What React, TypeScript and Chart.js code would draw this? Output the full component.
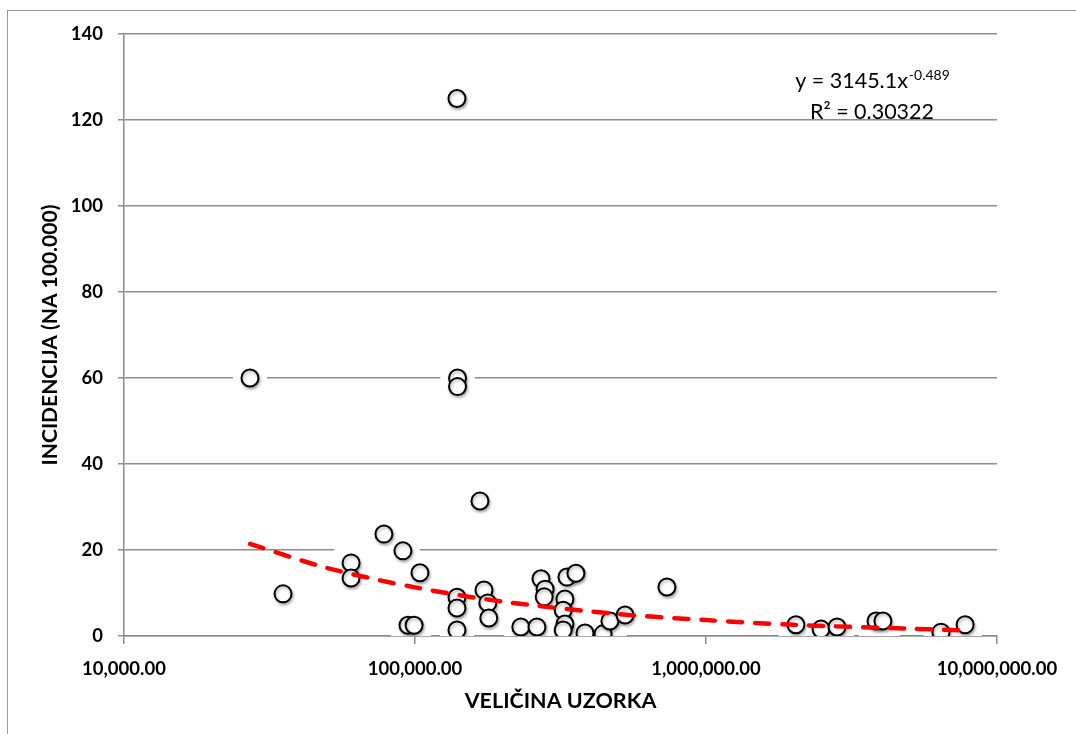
import React, { useEffect, useRef } from "react";
import { Chart, registerables } from "chart.js";

Chart.register(...registerables);

// Sample size (x) and incidence per 100,000 (y)
const sampleSize = [
  27100, 35200, 60300, 60300, 78200, 90900, 104000, 94600, 99300,
  139400, 140000, 140000, 139400, 139400, 139400,
  167200, 172600, 177900, 179300,
  231000, 262500, 271000, 280000, 278000,
  332800, 357300, 327500, 323000, 327500, 323000,
  383900, 442800, 467600, 527000, 734000,
  2037000, 2485000, 2820000, 3840000, 4054000, 6420000, 7770000,
];
const incidence = [
  60, 9.8, 17.0, 13.5, 23.7, 19.8, 14.7, 2.5, 2.5,
  125, 60, 58, 9.0, 6.5, 1.4,
  31.4, 10.7, 7.7, 4.2,
  2.1, 2.1, 13.3, 10.9, 9.1,
  13.7, 14.6, 8.6, 6.0, 2.8, 1.4,
  0.7, 0.5, 3.5, 4.9, 11.4,
  2.6, 1.6, 2.1, 3.5, 3.5, 0.9, 2.6,
];

// Power trend line y = 3145.1x^-0.489, read at a few positions
const trendX = [27100, 50000, 100000, 200000, 500000, 1000000, 2000000, 5000000, 7770000];
const trendY = [21.4, 15.8, 11.3, 8.0, 5.1, 3.7, 2.6, 1.7, 1.3];

const xTickValues = [10000, 100000, 1000000, 10000000];
const yTicks = [0, 20, 40, 60, 80, 100, 120, 140];

const xTitle = "VELIČINA UZORKA";
const yTitle = "INCIDENCIJA (NA 100.000)";
const eqMain = "y = 3145.1x";
const eqExp = "-0.489";
const r2Text = "R² = 0.30322";

const FONT = "Lato, 'Open Sans', sans-serif";
const GRID = "#8c8c8c";

export default function App() {
  const ref = useRef<HTMLCanvasElement | null>(null);

  useEffect(() => {
    if (!ref.current) return;
    const pts = sampleSize.map((x, i) => ({ x, y: incidence[i] }));
    const trend = trendX.map((x, i) => ({ x, y: trendY[i] }));

    const shadowPlugin = {
      id: "shadow",
      beforeDatasetDraw(chart: any, args: any) {
        if (args.index === 1) {
          const c = chart.ctx;
          c.save();
          c.shadowColor = "rgba(0,0,0,0.3)";
          c.shadowBlur = 3;
          c.shadowOffsetX = 1;
          c.shadowOffsetY = 2;
        }
      },
      afterDatasetDraw(chart: any, args: any) {
        if (args.index === 1) chart.ctx.restore();
      },
    };

    const annotationPlugin = {
      id: "eq",
      afterDraw(chart: any) {
        const c = chart.ctx;
        c.save();
        c.fillStyle = "#000";
        c.textBaseline = "alphabetic";
        const cx = 872;
        c.font = `21.5px ${FONT}`;
        const w1 = c.measureText(eqMain).width;
        c.font = `14px ${FONT}`;
        const w2 = c.measureText(eqExp).width;
        const start = cx - (w1 + w2) / 2;
        c.font = `21.5px ${FONT}`;
        c.textAlign = "left";
        c.fillText(eqMain, start, 88);
        c.font = `14px ${FONT}`;
        c.fillText(eqExp, start + w1 + 1, 80);
        c.font = `21.5px ${FONT}`;
        c.textAlign = "center";
        c.fillText(r2Text, cx, 119);
        c.restore();
      },
    };

    const chart = new Chart(ref.current, {
      type: "scatter",
      data: {
        datasets: [
          {
            label: "halo",
            data: pts,
            pointStyle: "rect",
            pointRadius: 24,
            backgroundColor: "#ffffff",
            borderWidth: 0,
            order: 3,
          },
          {
            label: "points",
            data: pts,
            pointStyle: "circle",
            pointRadius: 8.5,
            backgroundColor: "#ffffff",
            borderColor: "#000000",
            borderWidth: 2,
            order: 2,
          },
          {
            label: "trend",
            type: "line",
            data: trend,
            showLine: true,
            pointRadius: 0,
            borderColor: "#ff0000",
            borderWidth: 4.5,
            borderDash: [14, 13],
            borderCapStyle: "round",
            tension: 0.3,
            fill: false,
            order: 1,
          } as any,
        ],
      },
      options: {
        animation: false,
        responsive: false,
        devicePixelRatio: 1,
        events: [],
        layout: { padding: { top: 34, right: 79, left: 0, bottom: 0 } },
        plugins: { legend: { display: false }, tooltip: { enabled: false } },
        scales: {
          x: {
            type: "logarithmic",
            min: 10000,
            max: 10000000,
            afterBuildTicks: (scale: any) => {
              scale.ticks = xTickValues.map((v) => ({ value: v }));
            },
            afterFit: (scale: any) => {
              scale.height = 98;
            },
            grid: {
              drawOnChartArea: false,
              drawTicks: true,
              tickLength: 8,
              color: GRID,
              lineWidth: 1.5,
            },
            border: { display: true, color: GRID, width: 1.5 },
            ticks: {
              autoSkip: false,
              maxRotation: 0,
              padding: 14,
              color: "#000",
              font: { family: FONT, size: 18.5, weight: "bold" },
              callback: (v: any) =>
                Number(v).toLocaleString("en-US", {
                  minimumFractionDigits: 2,
                  maximumFractionDigits: 2,
                }),
            },
            title: {
              display: true,
              text: xTitle,
              color: "#000",
              font: { family: FONT, size: 21.5, weight: "bold" },
              padding: { top: 0, bottom: 20 },
            },
          },
          y: {
            min: 0,
            max: 140,
            afterBuildTicks: (scale: any) => {
              scale.ticks = yTicks.map((v) => ({ value: v }));
            },
            afterFit: (scale: any) => {
              scale.width = 124;
            },
            grid: {
              drawOnChartArea: true,
              drawTicks: true,
              tickLength: 6,
              color: GRID,
              lineWidth: 1.5,
            },
            border: { display: true, color: GRID, width: 1.5 },
            ticks: {
              padding: 15,
              color: "#000",
              font: { family: FONT, size: 18.5, weight: "bold" },
            },
            title: {
              display: true,
              text: yTitle,
              color: "#000",
              font: { family: FONT, size: 21, weight: "bold" },
              padding: { top: 38, bottom: 0 },
            },
          },
        },
      },
      plugins: [shadowPlugin, annotationPlugin],
    });
    return () => chart.destroy();
  }, []);

  return (
    <div style={{ position: "fixed", left: 0, top: 0, width: 1076, height: 734, background: "#fff", overflow: "hidden" }}>
      <div
        style={{
          position: "absolute",
          left: 7,
          top: 10,
          width: 1200,
          height: 900,
          border: "1.5px solid #999",
          boxSizing: "border-box",
        }}
      />
      <canvas
        ref={ref}
        width={1076}
        height={734}
        style={{ position: "absolute", left: 0, top: 0, width: 1076, height: 734 }}
      />
    </div>
  );
}
